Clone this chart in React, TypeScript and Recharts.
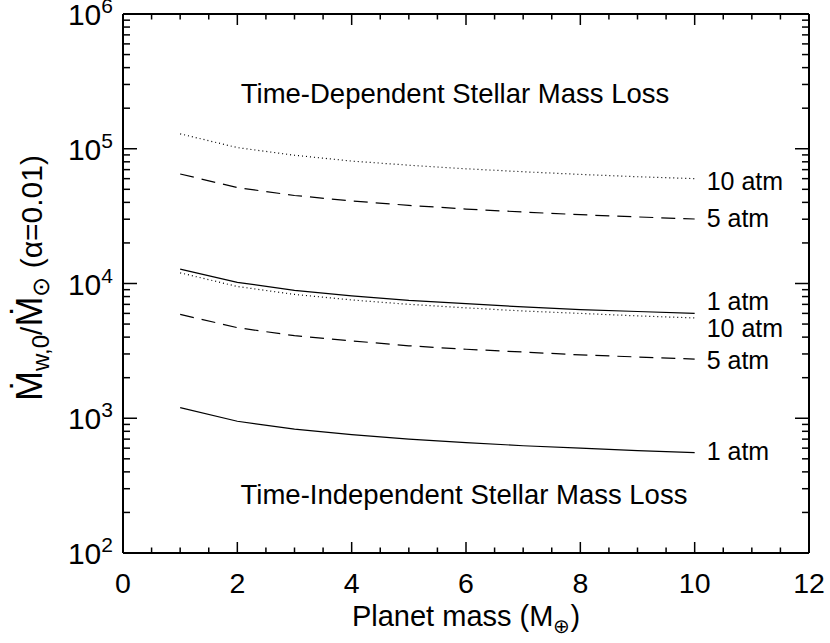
import React from "react";
import { LineChart, Line, XAxis, YAxis, LabelList } from "recharts";

// planet mass (Earth masses)
const masses = [1, 2, 3, 4, 5, 6, 7, 8, 9, 10];

// time-dependent stellar mass loss
const td10atm = [129000, 102000, 89500, 81000, 75500, 71000, 67500, 64500, 62000, 60000];
const td5atm = [65000, 51500, 45000, 41000, 38000, 35700, 33900, 32400, 31200, 30100];
const td1atm = [12800, 10200, 8900, 8100, 7500, 7100, 6700, 6400, 6200, 6000];

// time-independent stellar mass loss
const ti10atm = [12000, 9500, 8300, 7550, 7000, 6600, 6250, 6000, 5750, 5550];
const ti5atm = [5900, 4700, 4100, 3750, 3450, 3250, 3100, 2950, 2850, 2750];
const ti1atm = [1200, 950, 830, 755, 700, 660, 625, 600, 575, 555];

const xTicks = [0, 0.5, 1, 1.5, 2, 2.5, 3, 3.5, 4, 4.5, 5, 5.5, 6, 6.5, 7, 7.5, 8, 8.5, 9, 9.5, 10, 10.5, 11, 11.5, 12];
const yTicks = [100, 200, 300, 400, 500, 600, 700, 800, 900, 1000, 2000, 3000, 4000, 5000, 6000, 7000, 8000, 9000, 10000, 20000, 30000, 40000, 50000, 60000, 70000, 80000, 90000, 100000, 200000, 300000, 400000, 500000, 600000, 700000, 800000, 900000, 1000000];

const FONT = "'Liberation Sans', Arial, Helvetica, sans-serif";

const series = [
  { key: "td10", values: td10atm, label: "10 atm", dash: "1 3", dy: 11 },
  { key: "td5", values: td5atm, label: "5 atm", dash: "14 8", dy: 8 },
  { key: "td1", values: td1atm, label: "1 atm", dash: undefined, dy: -3 },
  { key: "ti10", values: ti10atm, label: "10 atm", dash: "1 3", dy: 19 },
  { key: "ti5", values: ti5atm, label: "5 atm", dash: "14 8", dy: 10 },
  { key: "ti1", values: ti1atm, label: "1 atm", dash: undefined, dy: 7 },
];

const data = masses.map((m, i) => {
  const row: any = { m };
  series.forEach(s => { row[s.key] = s.values[i]; });
  return row;
});

const isMajorY = (v: number) => {
  const l = Math.log10(v);
  return Math.abs(l - Math.round(l)) < 1e-6;
};

const LeftTick = (p: any) => {
  const v = p.payload.value;
  const major = isMajorY(v);
  return (
    <g>
      <line x1={p.x} y1={p.y} x2={p.x + (major ? 14 : 7)} y2={p.y} stroke="#000" strokeWidth={1.5} />
      {major && (
        <text x={p.x - 10} y={p.y + 11} textAnchor="end" fontSize={30} fontFamily={FONT} fill="#000">
          10<tspan dy={-12} fontSize={21}>{Math.round(Math.log10(v))}</tspan>
        </text>
      )}
    </g>
  );
};

const RightTick = (p: any) => {
  const major = isMajorY(p.payload.value);
  return <line x1={p.x} y1={p.y} x2={p.x - (major ? 14 : 7)} y2={p.y} stroke="#000" strokeWidth={1.5} />;
};

const BottomTick = (p: any) => {
  const v = p.payload.value;
  const major = v % 2 === 0;
  return (
    <g>
      <line x1={p.x} y1={p.y} x2={p.x} y2={p.y - (major ? 11 : 5.5)} stroke="#000" strokeWidth={1.5} />
      {major && (
        <text x={p.x} y={p.y + 40} textAnchor="middle" fontSize={28.5} fontFamily={FONT} fill="#000">
          {v}
        </text>
      )}
    </g>
  );
};

const TopTick = (p: any) => {
  const major = p.payload.value % 2 === 0;
  return <line x1={p.x} y1={p.y} x2={p.x} y2={p.y + (major ? 11 : 5.5)} stroke="#000" strokeWidth={1.5} />;
};

const endLabel = (text: string, dy: number, n: number, last: number) => (props: any) => {
  const isLast = props.index !== undefined ? props.index === n - 1 : props.value === last;
  if (!isLast) return null;
  return (
    <text x={props.x + 12} y={props.y + dy} fontSize={25} fontFamily={FONT} fill="#000">
      {text}
    </text>
  );
};

const axisStyle = { stroke: "#000", strokeWidth: 2 };

export default function App() {
  return (
    <div style={{ position: "absolute", left: 0, top: 0, width: 830, height: 643, background: "#fff" }}>
      <LineChart width={830} height={643} data={data} margin={{ top: 13, right: 20, bottom: 89, left: 122 }}>
        <XAxis
          xAxisId="b" dataKey="m" type="number" domain={[0, 12]} ticks={xTicks} interval={0}
          height={1} tickSize={0} tickMargin={0} tickLine={false} axisLine={axisStyle} tick={BottomTick}
        />
        <XAxis
          xAxisId="t" orientation="top" dataKey="m" type="number" domain={[0, 12]} ticks={xTicks} interval={0}
          height={1} tickSize={0} tickMargin={0} tickLine={false} axisLine={axisStyle} tick={TopTick}
        />
        <YAxis
          yAxisId="l" type="number" scale="log" domain={[100, 1000000]} ticks={yTicks} interval={0}
          width={1} tickSize={0} tickMargin={0} tickLine={false} axisLine={axisStyle} tick={LeftTick}
          allowDataOverflow
        />
        <YAxis
          yAxisId="r" orientation="right" type="number" scale="log" domain={[100, 1000000]} ticks={yTicks} interval={0}
          width={1} tickSize={0} tickMargin={0} tickLine={false} axisLine={axisStyle} tick={RightTick}
          allowDataOverflow
        />
        {series.map(s => (
          <Line
            key={s.key}
            xAxisId="b"
            yAxisId="l"
            dataKey={s.key}
            type="linear"
            stroke="#000"
            strokeWidth={1.2}
            strokeDasharray={s.dash}
            dot={false}
            activeDot={false}
            isAnimationActive={false}
          >
            <LabelList dataKey={s.key} content={endLabel(s.label, s.dy, s.values.length, s.values[s.values.length - 1])} />
          </Line>
        ))}
      </LineChart>
      <svg width={830} height={643} style={{ position: "absolute", left: 0, top: 0, pointerEvents: "none" }}>
        <g fontFamily={FONT} fill="#000">
          <text x={455} y={103} textAnchor="middle" fontSize={27.5}>Time-Dependent Stellar Mass Loss</text>
          <text x={464} y={504} textAnchor="middle" fontSize={27.5}>Time-Independent Stellar Mass Loss</text>
          <text x={466} y={626} textAnchor="middle" fontSize={29}>
            Planet mass (M<tspan dy={7} fontSize={20}>⊕</tspan><tspan dy={-7}>)</tspan>
          </text>
          <text transform="translate(42,278) rotate(-90)" textAnchor="middle" fontSize={30}>
            <tspan fontSize={36}>Ṁ</tspan>
            <tspan dy={7} fontSize={24}>w,0</tspan>
            <tspan dy={-7}>/</tspan>
            <tspan fontSize={36}>Ṁ</tspan>
            <tspan dy={7} fontSize={24}>⊙</tspan>
            <tspan dy={-7}> (α=0.01)</tspan>
          </text>
        </g>
      </svg>
    </div>
  );
}
